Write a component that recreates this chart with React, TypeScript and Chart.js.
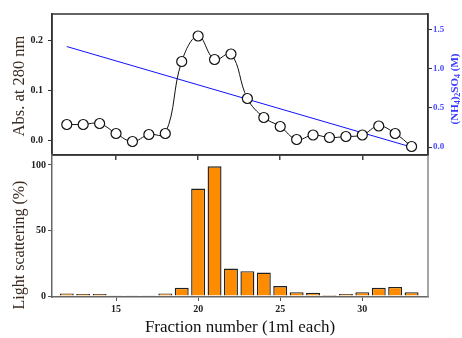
import React, { useEffect, useRef } from "react";
import { Chart, registerables } from "chart.js";

Chart.register(...registerables);

const fractions = [12, 13, 14, 15, 16, 17, 18, 19, 20, 21, 22, 23, 24, 25, 26, 27, 28, 29, 30, 31, 32, 33];
const absorbance = [0.031, 0.031, 0.033, 0.013, -0.003, 0.011, 0.013, 0.157, 0.208, 0.161, 0.172, 0.083, 0.045, 0.027, 0.001, 0.01, 0.005, 0.007, 0.01, 0.028, 0.013, -0.013];
const saltFractions = [12, 33];
const saltConc = [1.28, 0];
const scattering = [2, 1.5, 1.5, 0.6, 0.6, 0.6, 2, 6.3, 82, 99, 21, 19, 18, 7.6, 3, 2.5, 0.8, 1.5, 3, 6.3, 7, 3];
const xTicks = [15, 20, 25, 30];
const absTicks = [0, 0.1, 0.2];
const saltTicks = [0, 0.5, 1.0, 1.5];
const scatTicks = [0, 50, 100];

const W = 462;
const H = 338;
const LEFT = 52;
const RIGHT = 428;
const TOP = 14;
const MID = 155;
const BOTTOM = 297;
const SERIF = "'Liberation Serif', 'Times New Roman', serif";

const topPlugin = {
  id: "topDecor",
  afterDraw(chart: any) {
    const ctx = chart.ctx;
    const a = chart.chartArea;
    ctx.save();
    ctx.strokeStyle = "#333";
    ctx.lineWidth = 1.5;
    ctx.strokeRect(a.left, a.top, a.right - a.left, a.bottom - a.top);
    ctx.fillStyle = "#3a2a20";
    ctx.font = `16.5px ${SERIF}`;
    ctx.textAlign = "center";
    ctx.textBaseline = "middle";
    ctx.translate(20, 86);
    ctx.rotate(-Math.PI / 2);
    ctx.fillText("Abs. at 280 nm", 0, 0);
    ctx.restore();

    ctx.save();
    ctx.fillStyle = "#3a3aff";
    const parts: [string, boolean][] = [["(NH", false], ["4", true], [")", false], ["2", true], ["SO", false], ["4", true], [" (M)", false]];
    const big = `bold 11px ${SERIF}`;
    const small = `bold 8px ${SERIF}`;
    let total = 0;
    for (const [t, s] of parts) {
      ctx.font = s ? small : big;
      total += ctx.measureText(t).width;
    }
    ctx.translate(455, 89);
    ctx.rotate(-Math.PI / 2);
    ctx.textBaseline = "middle";
    ctx.textAlign = "left";
    let x = -total / 2;
    for (const [t, s] of parts) {
      ctx.font = s ? small : big;
      ctx.fillText(t, x, s ? 3 : 0);
      x += ctx.measureText(t).width;
    }
    ctx.restore();
  },
};

const bottomPlugin = {
  id: "bottomDecor",
  afterDraw(chart: any) {
    const ctx = chart.ctx;
    const a = chart.chartArea;
    ctx.save();
    ctx.strokeStyle = "#888";
    ctx.lineWidth = 1.5;
    ctx.beginPath();
    ctx.moveTo(a.right, a.top);
    ctx.lineTo(a.right, a.bottom);
    ctx.stroke();
    ctx.fillStyle = "#3a2a20";
    ctx.font = `16px ${SERIF}`;
    ctx.textAlign = "center";
    ctx.textBaseline = "middle";
    ctx.translate(20, 245);
    ctx.rotate(-Math.PI / 2);
    ctx.fillText("Light scattering (%)", 0, 0);
    ctx.restore();
  },
};

export default function App() {
  const topRef = useRef<HTMLCanvasElement>(null);
  const botRef = useRef<HTMLCanvasElement>(null);

  useEffect(() => {
    const tickFont = { family: SERIF, size: 10, weight: "bold" as const };
    const topChart = new Chart(topRef.current!, {
      type: "line",
      data: {
        datasets: [
          {
            data: fractions.map((f, i) => ({ x: f, y: absorbance[i] })),
            yAxisID: "y",
            borderColor: "#111",
            borderWidth: 1,
            tension: 0.4,
            pointRadius: 5,
            pointBackgroundColor: "#fff",
            pointBorderColor: "#111",
            pointBorderWidth: 1.2,
            order: 1,
          },
          {
            data: saltFractions.map((f, i) => ({ x: f, y: saltConc[i] })),
            yAxisID: "y2",
            borderColor: "#1010ff",
            borderWidth: 1,
            pointRadius: 0,
            order: 2,
          },
        ],
      },
      options: {
        responsive: false,
        animation: false,
        layout: { padding: { top: TOP, left: 0, right: 0, bottom: 0 } },
        plugins: { legend: { display: false }, tooltip: { enabled: false } },
        scales: {
          x: {
            type: "linear",
            position: "bottom",
            min: 11.1,
            max: 34,
            offset: false,
            afterBuildTicks: (s: any) => { s.ticks = xTicks.map((v) => ({ value: v })); },
            afterFit: (s: any) => { s.height = H - MID; },
            ticks: { display: false },
            grid: { drawOnChartArea: false, tickLength: 5, color: "#444", lineWidth: 1.5, offset: false },
            border: { color: "#333", width: 1.5 },
          },
          y: {
            type: "linear",
            position: "left",
            min: -0.03,
            max: 0.252,
            afterBuildTicks: (s: any) => { s.ticks = absTicks.map((v) => ({ value: v })); },
            afterFit: (s: any) => { s.width = LEFT; },
            ticks: { font: tickFont, color: "#222", padding: 5, callback: (v: any) => Number(v).toFixed(1) },
            grid: { drawOnChartArea: false, tickLength: 4, color: "#333" },
            border: { color: "#333", width: 1.5 },
          },
          y2: {
            type: "linear",
            position: "right",
            min: -0.1,
            max: 1.694,
            afterBuildTicks: (s: any) => { s.ticks = saltTicks.map((v) => ({ value: v })); },
            afterFit: (s: any) => { s.width = W - RIGHT; },
            ticks: { font: { family: SERIF, size: 9, weight: "bold" as const }, color: "#4a4aff", padding: 1, callback: (v: any) => Number(v).toFixed(1) },
            grid: { drawOnChartArea: false, tickLength: 4, color: "#333" },
            border: { color: "#333", width: 1.5 },
          },
        },
      },
      plugins: [topPlugin],
    } as any);

    const botChart = new Chart(botRef.current!, {
      type: "bar",
      data: {
        datasets: [
          {
            data: fractions.map((f, i) => ({ x: f, y: scattering[i] })),
            backgroundColor: "#ff8c00",
            borderColor: "#222",
            borderWidth: 1.4,
            categoryPercentage: 1,
            barPercentage: 0.85,
          },
        ],
      },
      options: {
        responsive: false,
        animation: false,
        layout: { padding: { top: MID, left: 0, right: W - RIGHT, bottom: 0 } },
        plugins: { legend: { display: false }, tooltip: { enabled: false } },
        scales: {
          x: {
            type: "linear",
            position: "bottom",
            min: 11.1,
            max: 34,
            offset: false,
            afterBuildTicks: (s: any) => { s.ticks = xTicks.map((v) => ({ value: v })); },
            afterFit: (s: any) => { s.height = H - BOTTOM; },
            ticks: { font: tickFont, color: "#222", padding: 2 },
            grid: { drawOnChartArea: false, tickLength: 4, color: "#555", offset: false },
            border: { color: "#666", width: 1.5 },
            title: {
              display: true,
              text: "Fraction number (1ml each)",
              font: { family: SERIF, size: 17 },
              color: "#111",
              padding: { top: 0, bottom: 0 },
            },
          },
          y: {
            type: "linear",
            position: "left",
            min: -0.7,
            max: 107.6,
            afterBuildTicks: (s: any) => { s.ticks = scatTicks.map((v) => ({ value: v })); },
            afterFit: (s: any) => { s.width = LEFT; },
            ticks: { font: tickFont, color: "#222", padding: 2 },
            grid: { drawOnChartArea: false, tickLength: 4, color: "#555" },
            border: { color: "#666", width: 1.5 },
          },
        },
      },
      plugins: [bottomPlugin],
    } as any);

    return () => {
      topChart.destroy();
      botChart.destroy();
    };
  }, []);

  return (
    <div style={{ position: "absolute", left: 0, top: 0, width: W, height: H, background: "#fff" }}>
      <canvas ref={topRef} width={W} height={H} style={{ position: "absolute", left: 0, top: 0 }} />
      <canvas ref={botRef} width={W} height={H} style={{ position: "absolute", left: 0, top: 0 }} />
    </div>
  );
}
